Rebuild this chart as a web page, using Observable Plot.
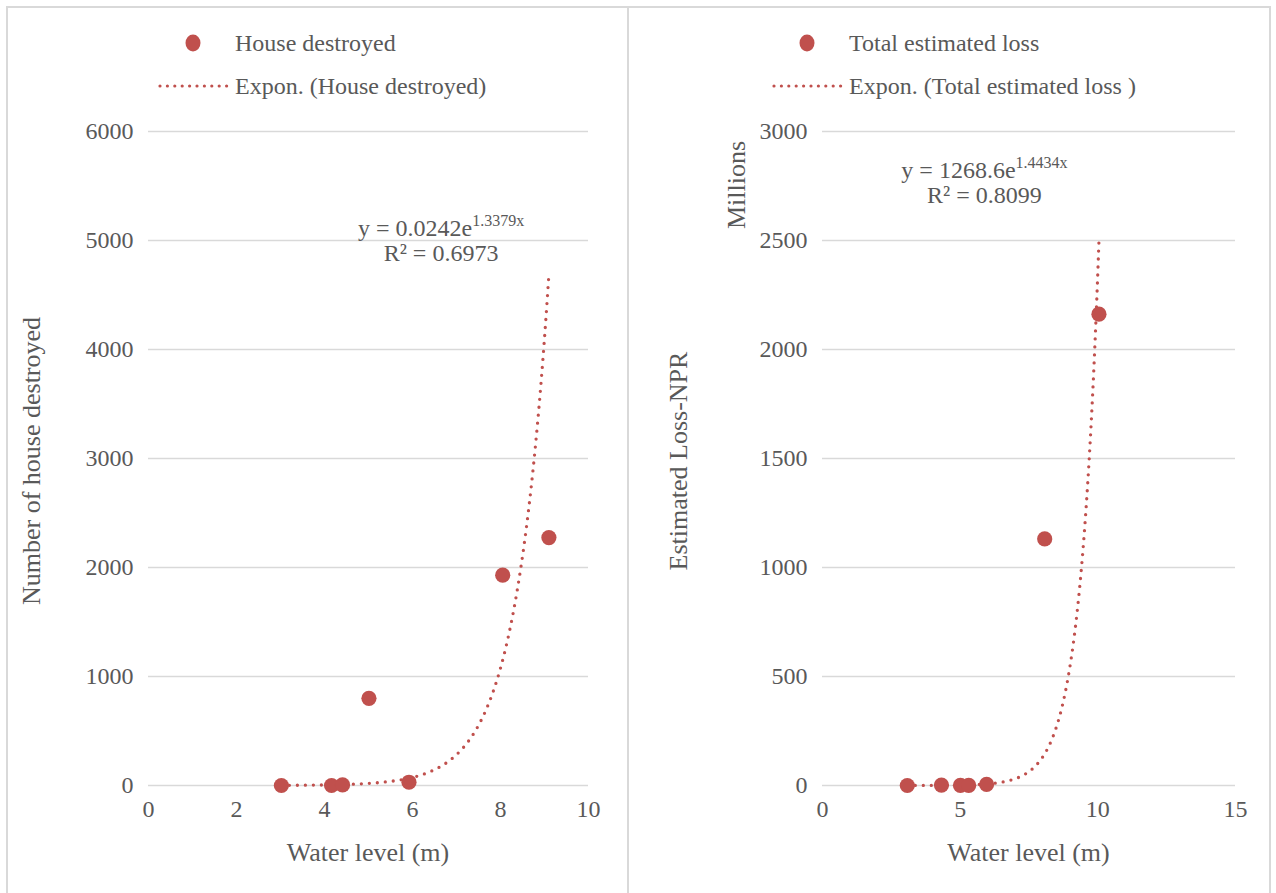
<!DOCTYPE html>
<html>
<head>
<meta charset="utf-8">
<script src="https://cdn.jsdelivr.net/npm/d3@7"></script>
<script src="https://cdn.jsdelivr.net/npm/@observablehq/plot@0.6"></script>
<style>
  body { margin: 0; background: #fff; }
  #page {
    position: relative; width: 1276px; height: 893px; overflow: hidden;
    font-family: "Liberation Serif", "Times New Roman", serif; color: #595959;
  }
  .panel { position: absolute; border: 2px solid #d9d9d9; box-sizing: border-box; }
  .chart { position: absolute; top: 0; }
  .legend-item { position: absolute; font-size: 24px; line-height: 24px; white-space: nowrap; }
  .legend-item svg { position: absolute; overflow: visible; }
</style>
</head>
<body>
<div id="page"></div>
<script>
// Water level (m) against houses destroyed
const houseWaterLevel = [3.02, 4.16, 4.41, 5.01, 5.92, 8.05, 9.1];
const housesDestroyed = [0, 0, 5, 800, 30, 1930, 2275];

// Water level (m) against total estimated loss (NPR, millions)
const lossWaterLevel = [3.08, 4.32, 5.01, 5.31, 5.96, 8.07, 10.04];
const lossMillions = [0, 2, 1, 1, 5, 1131, 2162];

// Axis ticks
const houseYTicks = [0, 1000, 2000, 3000, 4000, 5000, 6000];
const houseXTicks = [0, 2, 4, 6, 8, 10];
const lossYTicks = [0, 500, 1000, 1500, 2000, 2500, 3000];
const lossXTicks = [0, 5, 10, 15];

// Exponential trendlines y = a·e^(b·x), as reported with each chart
const houseFit = { a: 0.0242, b: 1.3379, r2: 0.6973, aText: "0.0242", bText: "1.3379" };
const lossFit = { a: 1268.6, b: 1.4434, r2: 0.8099, aText: "1268.6", bText: "1.4434" };

const RED = "#c0504d";
const GRID = "#d9d9d9";
const FONT = '"Liberation Serif", "Times New Roman", serif';

const page = document.getElementById("page");

function trendPoints(xs, fit, divisor) {
  const [x0, x1] = d3.extent(xs);
  const n = 200;
  return d3.range(n + 1).map(i => {
    const x = x0 + (x1 - x0) * i / n;
    return { x, y: fit.a * Math.exp(fit.b * x) / divisor };
  });
}

function drawPanel(cfg) {
  const points = cfg.xs.map((x, i) => ({ x, y: cfg.ys[i] }));
  const trend = trendPoints(cfg.xs, cfg.fit, cfg.divisor);

  const chart = Plot.plot({
    width: cfg.width,
    height: 893,
    marginLeft: cfg.marginLeft,
    marginRight: cfg.marginRight,
    marginTop: 131,
    marginBottom: 108,
    x: { domain: cfg.xDomain },
    y: { domain: cfg.yDomain },
    style: { fontFamily: FONT, fontSize: "24px", color: "#595959", background: "transparent", overflow: "visible" },
    marks: [
      Plot.gridY(cfg.yTicks, { stroke: GRID, strokeOpacity: 1, strokeWidth: 1.6 }),
      Plot.axisY(cfg.yTicks, { tickSize: 0, tickPadding: 15, label: null, tickFormat: d => String(d) }),
      Plot.axisX(cfg.xTicks, { tickSize: 0, tickPadding: 14, label: null, tickFormat: d => String(d) }),
      Plot.line(trend, { x: "x", y: "y", stroke: RED, strokeWidth: 3.3, strokeDasharray: "0 8", strokeLinecap: "round" }),
      Plot.dot(points, { x: "x", y: "y", r: 7.6, fill: RED, stroke: "none" })
    ]
  });
  chart.classList.add("chart");
  chart.style.left = cfg.left + "px";
  page.appendChild(chart);

  const svg = d3.select(chart);
  const sx = chart.scale("x"), sy = chart.scale("y");
  const [rx0, rx1] = sx.range;
  const [ry0, ry1] = sy.range;

  const label = (x, y, text, rotate) => svg.append("text")
    .attr("transform", `translate(${x},${y})` + (rotate ? " rotate(-90)" : ""))
    .attr("text-anchor", "middle").attr("dominant-baseline", "central")
    .attr("fill", "#595959").attr("font-size", 26).attr("font-family", FONT)
    .text(text);

  // axis titles
  label((rx0 + rx1) / 2, 852, "Water level (m)");
  label(cfg.yTitleX, (ry0 + ry1) / 2 + 3, cfg.yTitle, true);
  if (cfg.unitLabel) label(cfg.unitLabel.x, cfg.unitLabel.y, cfg.unitLabel.text, true);

  // trendline equation and R²
  const ex = sx.apply(cfg.eqAt[0]), ey = sy.apply(cfg.eqAt[1]);
  const eq = svg.append("text")
    .attr("x", ex).attr("y", ey)
    .attr("text-anchor", "middle").attr("dominant-baseline", "central")
    .attr("fill", "#595959").attr("font-size", 24).attr("font-family", FONT);
  eq.append("tspan").text(`y = ${cfg.fit.aText}e`);
  eq.append("tspan").attr("font-size", 16).attr("dy", -8).text(`${cfg.fit.bText}x`);
  svg.append("text")
    .attr("x", ex).attr("y", ey + 25)
    .attr("text-anchor", "middle").attr("dominant-baseline", "central")
    .attr("fill", "#595959").attr("font-size", 24).attr("font-family", FONT)
    .text(`R² = ${cfg.fit.r2.toFixed(4)}`);

  // legend
  const item = (x, y, text, kind) => {
    const div = document.createElement("div");
    div.className = "legend-item";
    div.style.left = x + "px";
    div.style.top = (y - 12) + "px";
    div.textContent = text;
    page.appendChild(div);
    const mk = d3.select(page).append("svg")
      .style("position", "absolute").style("overflow", "visible")
      .style("left", "0px").style("top", "0px")
      .attr("width", 1).attr("height", 1);
    if (kind === "dot") {
      mk.append("ellipse").attr("cx", x - 42).attr("cy", y).attr("rx", 7.5).attr("ry", 8.5).attr("fill", RED);
    } else {
      mk.append("line").attr("x1", x - 75).attr("x2", x - 6).attr("y1", y).attr("y2", y)
        .attr("stroke", RED).attr("stroke-width", 3.2).attr("stroke-dasharray", "0 7.4").attr("stroke-linecap", "round");
    }
  };
  item(cfg.legendX, 43, cfg.seriesName, "dot");
  item(cfg.legendX, 86, `Expon. (${cfg.trendName})`, "line");
}

// panel frames
const framePanel = (left, width) => {
  const d = document.createElement("div");
  d.className = "panel";
  d.style.left = left + "px"; d.style.top = "6px";
  d.style.width = width + "px"; d.style.height = "910px";
  page.appendChild(d);
};
framePanel(6, 623);
framePanel(627, 644);

drawPanel({
  left: 0, width: 628, marginLeft: 148, marginRight: 40,
  xs: houseWaterLevel, ys: housesDestroyed,
  xDomain: [0, 10], yDomain: [0, 6000], xTicks: houseXTicks, yTicks: houseYTicks,
  fit: houseFit, divisor: 1,
  yTitle: "Number of house destroyed", yTitleX: 31,
  eqAt: [6.66, 5110],
  legendX: 235, seriesName: "House destroyed", trendName: "House destroyed"
});

drawPanel({
  left: 628, width: 648, marginLeft: 194, marginRight: 41,
  xs: lossWaterLevel, ys: lossMillions,
  xDomain: [0, 15], yDomain: [0, 3000], xTicks: lossXTicks, yTicks: lossYTicks,
  fit: lossFit, divisor: 1e6,
  yTitle: "Estimated Loss-NPR", yTitleX: 50,
  unitLabel: { x: 108, y: 185, text: "Millions" },
  eqAt: [5.9, 2821],
  legendX: 849, seriesName: "Total estimated loss", trendName: "Total estimated loss "
});
</script>
</body>
</html>
